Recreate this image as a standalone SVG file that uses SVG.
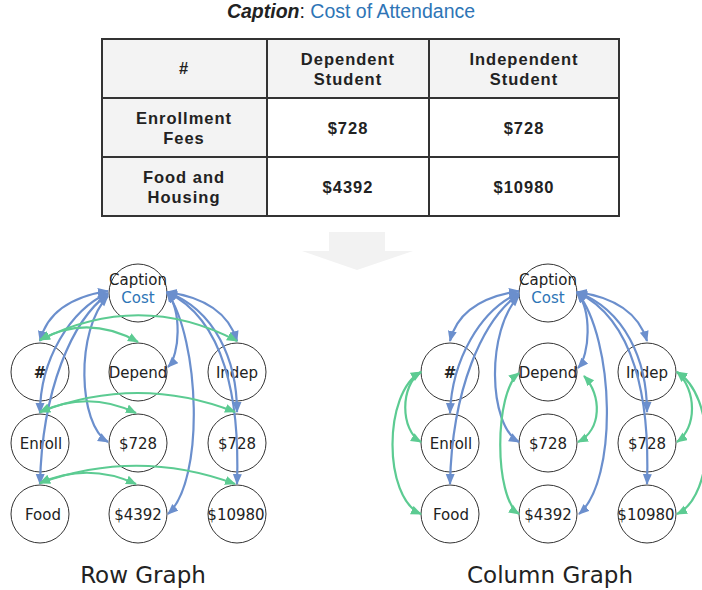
<svg xmlns="http://www.w3.org/2000/svg" width="702" height="590" viewBox="0 0 702 590">
<style>
.tt{font-family:"Liberation Sans",Arial,sans-serif;font-size:16.5px;font-weight:bold;fill:#222;text-anchor:middle;letter-spacing:1px}
.cell{stroke:#333;stroke-width:2}
.node circle{fill:none;stroke:#333;stroke-width:1}
.nt{font-family:"DejaVu Sans",sans-serif;font-size:15px;fill:#222;text-anchor:middle}
.blue{fill:none;stroke:#6b8fcd;stroke-width:2.2;marker-start:url(#ab);marker-end:url(#ab)}
.green{fill:none;stroke:#5ccb92;stroke-width:2.2;marker-start:url(#ag);marker-end:url(#ag)}
.gt{font-family:"DejaVu Sans",sans-serif;font-size:23px;fill:#222;text-anchor:middle}
</style>
<defs>
<marker id="ab" markerUnits="userSpaceOnUse" markerWidth="11" markerHeight="10" refX="10" refY="4.5" orient="auto-start-reverse"><path d="M0,0 L11,4.5 L0,9 z" fill="#6b8fcd"/></marker>
<marker id="ag" markerUnits="userSpaceOnUse" markerWidth="11" markerHeight="10" refX="10" refY="4.5" orient="auto-start-reverse"><path d="M0,0 L11,4.5 L0,9 z" fill="#5ccb92"/></marker>
</defs>
<rect width="702" height="590" fill="#fff"/>
<text x="351" y="18" font-family="'Liberation Sans',Arial,sans-serif" font-size="19.5" text-anchor="middle"><tspan font-weight="bold" font-style="italic" fill="#222">Caption</tspan><tspan fill="#222">: </tspan><tspan fill="#2e75b6">Cost of Attendance</tspan></text>
<g id="table">
<rect x="102" y="39" width="517" height="59" fill="#f3f3f3"/>
<rect x="102" y="98" width="165" height="118" fill="#f3f3f3"/>
<rect x="102" y="39" width="517" height="177" fill="none" class="cell"/>
<line x1="267" y1="39" x2="267" y2="216" class="cell"/>
<line x1="429" y1="39" x2="429" y2="216" class="cell"/>
<line x1="102" y1="98" x2="619" y2="98" class="cell"/>
<line x1="102" y1="157" x2="619" y2="157" class="cell"/>
<text class="tt" x="184" y="74">#</text>
<text class="tt" x="348" y="65">Dependent</text><text class="tt" x="348" y="85">Student</text>
<text class="tt" x="524" y="65">Independent</text><text class="tt" x="524" y="85">Student</text>
<text class="tt" x="184" y="124">Enrollment</text><text class="tt" x="184" y="144">Fees</text>
<text class="tt" x="348" y="134">$728</text><text class="tt" x="524" y="134">$728</text>
<text class="tt" x="184" y="183">Food and</text><text class="tt" x="184" y="203">Housing</text>
<text class="tt" x="348" y="193">$4392</text><text class="tt" x="524" y="193">$10980</text>
</g>
<path id="down-arrow" d="M329,232 H385 V251 H413 L357,270 L302,251 H329 Z" fill="#f2f2f2"/>
<g id="row-graph-nodes">
<g id="r-caption" class="node"><circle cx="138" cy="293" r="29"/><text class="nt" x="138" y="285">Caption</text><text class="nt" x="138" y="303" style="fill:#2e75b6">Cost</text></g>
<g id="r-hash" class="node"><circle cx="40" cy="372" r="29"/><text class="nt" x="40" y="378" font-weight="bold">#</text></g>
<g id="r-depend" class="node"><circle cx="138" cy="372" r="29"/><text class="nt" x="138" y="378">Depend</text></g>
<g id="r-indep" class="node"><circle cx="237" cy="372" r="29"/><text class="nt" x="237" y="378">Indep</text></g>
<g id="r-enroll" class="node"><circle cx="40" cy="443" r="29"/><text class="nt" x="41" y="449">Enroll</text></g>
<g id="r-728a" class="node"><circle cx="138" cy="443" r="29"/><text class="nt" x="138" y="449">$728</text></g>
<g id="r-728b" class="node"><circle cx="237" cy="443" r="29"/><text class="nt" x="237" y="449">$728</text></g>
<g id="r-food" class="node"><circle cx="40" cy="514" r="29"/><text class="nt" x="43" y="520">Food</text></g>
<g id="r-4392" class="node"><circle cx="138" cy="514" r="29"/><text class="nt" x="138" y="520">$4392</text></g>
<g id="r-10980" class="node"><circle cx="237" cy="514" r="29"/><text class="nt" x="236" y="520">$10980</text></g>
</g>
<g id="col-graph-nodes">
<g id="c-caption" class="node"><circle cx="548" cy="293" r="29"/><text class="nt" x="548" y="285">Caption</text><text class="nt" x="548" y="303" style="fill:#2e75b6">Cost</text></g>
<g id="c-hash" class="node"><circle cx="450" cy="372" r="29"/><text class="nt" x="450" y="378" font-weight="bold">#</text></g>
<g id="c-depend" class="node"><circle cx="548" cy="372" r="29"/><text class="nt" x="548" y="378">Depend</text></g>
<g id="c-indep" class="node"><circle cx="647" cy="372" r="29"/><text class="nt" x="647" y="378">Indep</text></g>
<g id="c-enroll" class="node"><circle cx="450" cy="443" r="29"/><text class="nt" x="451" y="449">Enroll</text></g>
<g id="c-728a" class="node"><circle cx="548" cy="443" r="29"/><text class="nt" x="548" y="449">$728</text></g>
<g id="c-728b" class="node"><circle cx="647" cy="443" r="29"/><text class="nt" x="647" y="449">$728</text></g>
<g id="c-food" class="node"><circle cx="450" cy="514" r="29"/><text class="nt" x="451" y="520">Food</text></g>
<g id="c-4392" class="node"><circle cx="548" cy="514" r="29"/><text class="nt" x="548" y="520">$4392</text></g>
<g id="c-10980" class="node"><circle cx="647" cy="514" r="29"/><text class="nt" x="646" y="520">$10980</text></g>
</g>
<g id="connectors">
<path class="blue" d="M40,341 Q50,300 108,291"/>
<path class="blue" d="M40,413 C40,360 70,310 108,293"/>
<path class="blue" d="M40,484 C42,390 72,320 108,294"/>
<path class="blue" d="M108,442 C78,425 75,330 108,296"/>
<path class="blue" d="M168,367 C180,355 182,310 167,293"/>
<path class="blue" d="M237,341 Q225,300 167,292"/>
<path class="blue" d="M237,412 C237,360 215,310 167,292"/>
<path class="blue" d="M237,484 C240,400 225,320 167,292"/>
<path class="blue" d="M168,514 C205,480 200,340 167,292"/>
<path class="green" d="M40,340 Q88,314 138,342"/>
<path class="green" d="M40,340 Q140,290 237,341"/>
<path class="green" d="M40,412 Q88,390 136,413"/>
<path class="green" d="M40,412 Q138,374 235,412"/>
<path class="green" d="M40,483 Q88,462 136,484"/>
<path class="green" d="M40,483 Q138,448 235,484"/>
<path class="blue" d="M450,341 Q460,300 519,291"/>
<path class="blue" d="M450,413 C452,360 480,310 519,293"/>
<path class="blue" d="M450,484 C452,390 482,320 519,294"/>
<path class="blue" d="M519,442 C488,425 486,330 519,296"/>
<path class="blue" d="M578,368 C590,355 592,310 577,293"/>
<path class="blue" d="M579,514 C618,480 615,340 577,292"/>
<path class="blue" d="M647,341 Q635,300 577,292"/>
<path class="blue" d="M647,412 C647,360 625,310 577,292"/>
<path class="blue" d="M647,484 C650,400 635,320 577,292"/>
<path class="green" d="M421,372 C400,385 400,430 421,442"/>
<path class="green" d="M421,372 C383,392 383,498 421,514"/>
<path class="green" d="M519,373 C494,392 494,498 519,514"/>
<path class="green" d="M584,376 C602,395 602,430 578,442"/>
<path class="green" d="M677,372 C697,390 697,428 677,442"/>
<path class="green" d="M677,372 C716,395 716,495 677,514"/>
</g>
<text class="gt" x="143" y="583">Row Graph</text>
<text class="gt" x="550" y="583">Column Graph</text>
</svg>
